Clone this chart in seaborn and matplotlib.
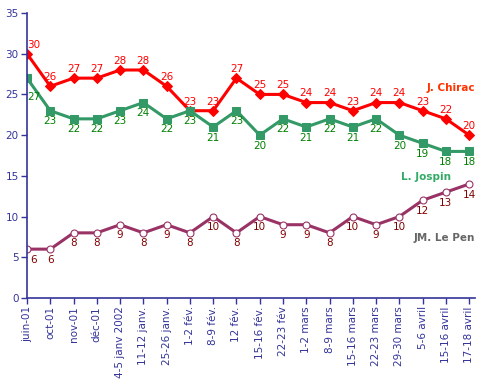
import numpy as np
import pandas as pd
import matplotlib
matplotlib.use("Agg")
import matplotlib.pyplot as plt
import seaborn as sns

# Intentions de vote, 1er tour 2002
dates = ["juin-01", "oct-01", "nov-01", "déc-01", "4-5 janv 2002", "11-12 janv.",
         "25-26 janv.", "1-2 fév.", "8-9 fév.", "12 fév.", "15-16 fév.", "22-23 fév",
         "1-2 mars", "8-9 mars", "15-16 mars", "22-23 mars", "29-30 mars",
         "5-6 avril", "15-16 avril", "17-18 avril"]
chirac = [30, 26, 27, 27, 28, 28, 26, 23, 23, 27, 25, 25, 24, 24, 23, 24, 24, 23, 22, 20]
jospin = [27, 23, 22, 22, 23, 24, 22, 23, 21, 23, 20, 22, 21, 22, 21, 22, 20, 19, 18, 18]
lepen = [6, 6, 8, 8, 9, 8, 9, 8, 10, 8, 10, 9, 9, 8, 10, 9, 10, 12, 13, 14]

df = pd.DataFrame({"date": dates, "chirac": chirac, "jospin": jospin, "lepen": lepen})

sns.set_style("white")
plt.rcParams['font.family'] = ['DejaVu Sans']

navy = "#333399"
fig = plt.figure(figsize=(4.79, 3.88), dpi=100)
ax = fig.add_axes([27 / 479, 90 / 388, 448 / 479, 285 / 388])

# Chirac
sns.lineplot(data=df, x="date", y="chirac", sort=False, ax=ax, color="#FF0000",
             linewidth=2.2, marker="D", markersize=5, markeredgecolor="#FF0000")
# Jospin
sns.lineplot(data=df, x="date", y="jospin", sort=False, ax=ax, color="#339966",
             linewidth=2.2, marker="s", markersize=5.5, markeredgecolor="#339966")
# Le Pen
sns.lineplot(data=df, x="date", y="lepen", sort=False, ax=ax, color="#993366",
             linewidth=2.2, marker="o", markersize=5, markerfacecolor="white",
             markeredgecolor="#993366", markeredgewidth=0.8)

# value labels
for i, v in enumerate(chirac):
    dx = 5 if i == 0 else 0
    ax.annotate(str(v), (i, v), xytext=(dx, 3), textcoords="offset points",
                ha="center", va="bottom", color="#FF0000", fontsize=7.5)
for i, v in enumerate(jospin):
    dx, dy = (5, -10) if i == 0 else (0, -4)
    ax.annotate(str(v), (i, v), xytext=(dx, dy), textcoords="offset points",
                ha="center", va="top", color="#008000", fontsize=7.5)
for i, v in enumerate(lepen):
    dx = 5 if i == 0 else 0
    ax.annotate(str(v), (i, v), xytext=(dx, -4), textcoords="offset points",
                ha="center", va="top", color="#800000", fontsize=7.5)

# series names
ax.text(19.25, 25.8, "J. Chirac", color="#FF3300", fontsize=7.5, fontweight="bold", ha="right", va="center")
ax.text(18.2, 14.9, "L. Jospin", color="#33AA66", fontsize=7.5, fontweight="bold", ha="right", va="center")
ax.text(19.25, 7.4, "JM. Le Pen", color="#666666", fontsize=7.5, fontweight="bold", ha="right", va="center")

ax.set_ylim(0, 35)
ax.set_xlim(0, 19.25)
ax.set_yticks(range(0, 36, 5))
ax.set_xticks(range(len(dates)))
ax.set_xticklabels(dates, rotation=90)
ax.set_xlabel("")
ax.set_ylabel("")

for s in ["top", "right"]:
    ax.spines[s].set_visible(False)
for s in ["left", "bottom"]:
    ax.spines[s].set_color(navy)
    ax.spines[s].set_linewidth(1.2)
ax.tick_params(axis="both", colors=navy, labelcolor=navy, labelsize=7.5,
               direction="out", length=4, width=1, left=True, bottom=True, pad=2)

fig.savefig("out.png", dpi=100)
